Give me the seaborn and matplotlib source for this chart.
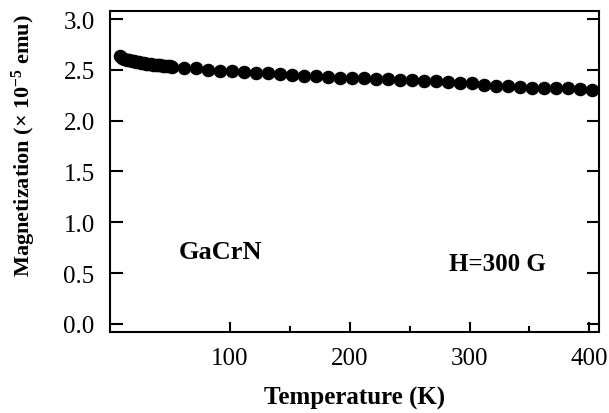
import matplotlib
matplotlib.use("Agg")
import matplotlib.pyplot as plt
import seaborn as sns
import pandas as pd

# ---- data ----
temp_low = [8, 10, 12, 14, 16, 18, 20, 22, 24, 26, 28, 30, 32, 34, 36, 38, 40,
            42, 44, 46, 48, 50, 52]
mag_low = [2.64, 2.62, 2.61, 2.60, 2.595, 2.59, 2.585, 2.58, 2.575, 2.57, 2.565,
           2.56, 2.558, 2.555, 2.552, 2.55, 2.548, 2.545, 2.542, 2.54, 2.538,
           2.535, 2.532]
temp_high = [62, 72, 82, 92, 102, 112, 122, 132, 142, 152, 162, 172, 182, 192,
             202, 212, 222, 232, 242, 252, 262, 272, 282, 292, 302, 312, 322,
             332, 342, 352, 362, 372, 382, 392, 402]
mag_high = [2.52, 2.52, 2.50, 2.49, 2.49, 2.48, 2.47, 2.47, 2.46, 2.45, 2.44,
            2.44, 2.43, 2.42, 2.42, 2.42, 2.41, 2.41, 2.40, 2.40, 2.39, 2.39,
            2.38, 2.37, 2.37, 2.35, 2.34, 2.34, 2.33, 2.32, 2.32, 2.32, 2.32,
            2.31, 2.30]

x_ticks = [100, 200, 300, 400]
x_minor = [150, 250, 350]
y_ticks = [0.0, 0.5, 1.0, 1.5, 2.0, 2.5, 3.0]
y_tick_labels = ["0.0", "0.5", "1.0", "1.5", "2.0", "2.5", "3.0"]

df = pd.DataFrame({"T": temp_low + temp_high, "M": mag_low + mag_high})

sns.set_style("ticks")
plt.rcParams["font.family"] = ["Liberation Serif", "DejaVu Serif"]
plt.rcParams["mathtext.fontset"] = "custom"
plt.rcParams["mathtext.rm"] = "Liberation Serif:bold"
plt.rcParams["mathtext.bf"] = "Liberation Serif:bold"
plt.rcParams["mathtext.default"] = "bf"
for k in ["text.color", "axes.labelcolor", "xtick.color", "ytick.color",
          "axes.edgecolor"]:
    plt.rcParams[k] = "black"

fig = plt.figure(figsize=(6.09, 4.14), dpi=100)
ax = fig.add_axes([0.1806, 0.1957, 0.8030, 0.7753])

sns.scatterplot(data=df, x="T", y="M", ax=ax, color="black", s=95,
                edgecolor="black", linewidth=0, legend=False)

ax.set_xlim(0, 408)
ax.set_ylim(-0.08, 3.08)
ax.set_xticks(x_ticks)
ax.set_xticklabels([str(v) for v in x_ticks])
ax.set_xticks(x_minor, minor=True)
ax.set_yticks(y_ticks)
ax.set_yticklabels(y_tick_labels)

for s in ax.spines.values():
    s.set_visible(True)
    s.set_linewidth(1.5)
    s.set_color("black")

ax.tick_params(axis="both", which="major", direction="in", length=7,
               width=1.5, labelsize=18, colors="black")
ax.tick_params(axis="x", which="major", pad=11)
ax.tick_params(axis="y", which="major", pad=11, right=True, length=9)
ax.tick_params(axis="x", which="minor", direction="in", length=4, width=1.5)

ax.set_xlabel("Temperature (K)", fontsize=18, fontweight="bold", labelpad=12)
ax.set_ylabel(r"Magnetization (× 10$^{-5}$ emu)", fontsize=16,
              fontweight="bold")
ax.yaxis.set_label_coords(-0.148, 0.585)

ax.text(92, 0.71, "GaCrN", fontsize=19, fontweight="bold",
        ha="center", va="center")
ax.text(323, 0.59, "H=300 G", fontsize=18, fontweight="bold",
        ha="center", va="center")

fig.savefig("out.png", dpi=100)
